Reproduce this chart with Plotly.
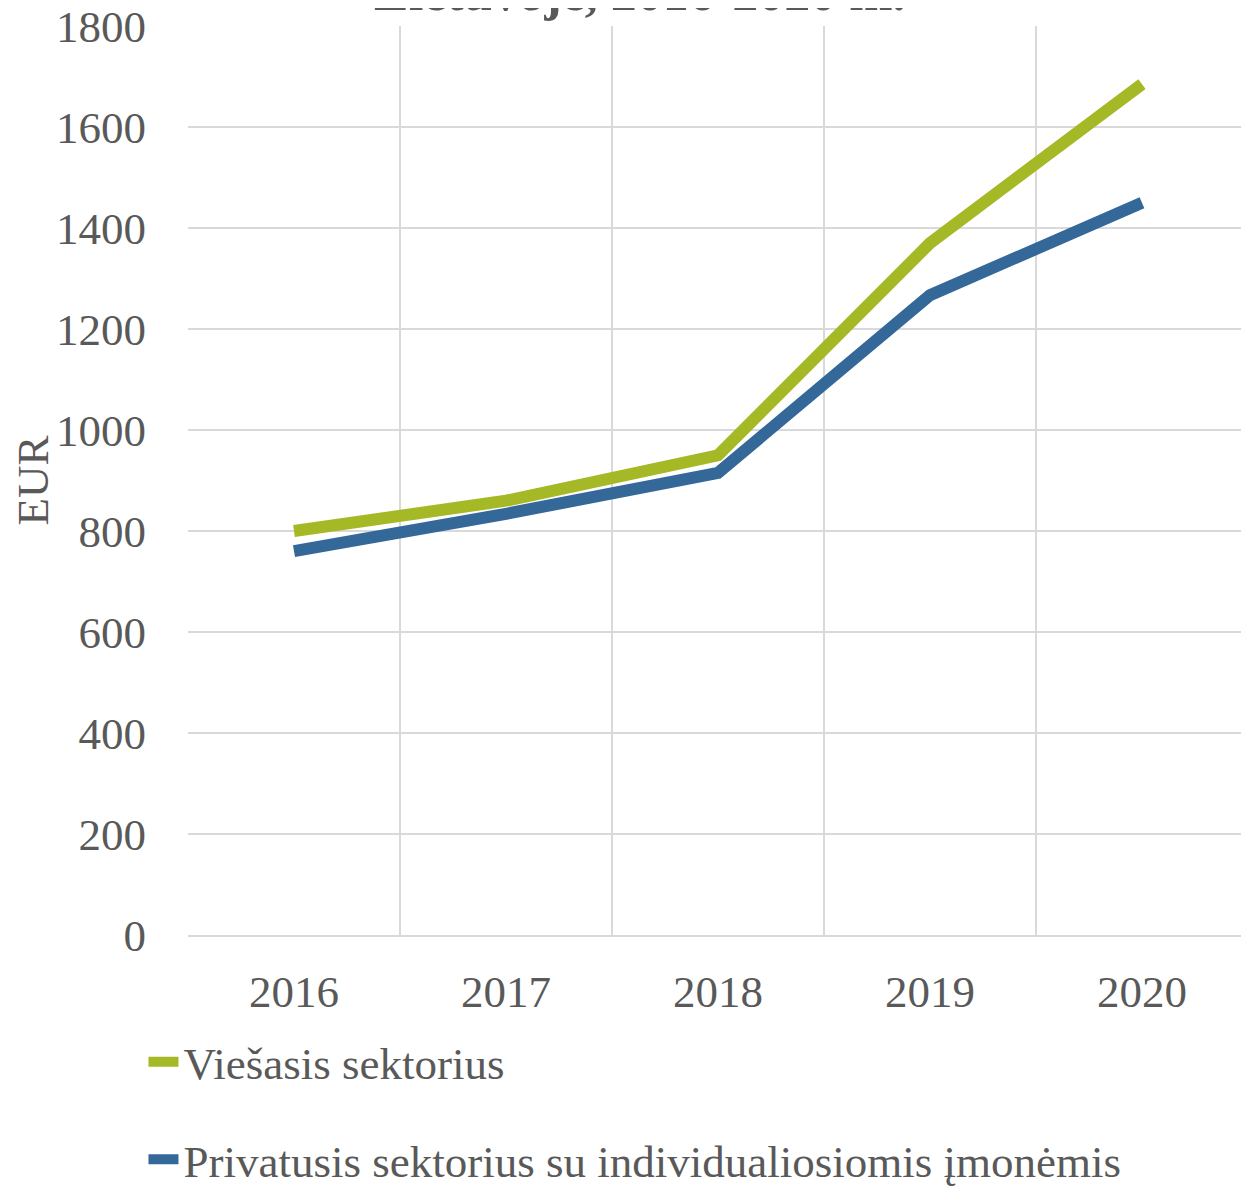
import plotly.graph_objects as go

# data
years = ['2016', '2017', '2018', '2019', '2020']
public_sector = [800, 860, 950, 1370, 1685]
private_sector = [760, 834, 915, 1267, 1450]
public_name = 'Viešasis sektorius'
private_name = 'Privatusis sektorius su individualiosiomis įmonėmis'
y_ticks = [0, 200, 400, 600, 800, 1000, 1200, 1400, 1600, 1800]

FONT = 'Liberation Serif, Times New Roman, serif'
TEXT = '#595959'
GRID = '#d9d9d9'

fig = go.Figure()
fig.add_trace(go.Scatter(
    x=years, y=public_sector, name=public_name, mode='lines',
    line=dict(color='#a5b826', width=12), legendgroup='a'
))
fig.add_trace(go.Scatter(
    x=years, y=private_sector, name=private_name, mode='lines',
    line=dict(color='#346899', width=12), legendgroup='b'
))

# the page body adds an 8px offset, so the figure is 8px smaller
fig.update_layout(
    width=1241, height=1182,
    paper_bgcolor='white', plot_bgcolor='white',
    font=dict(family=FONT, size=45, color=TEXT),
    margin=dict(l=180, r=1, t=18, b=255, autoexpand=False),
    showlegend=True,
    legend=dict(
        orientation='v', x=-0.042, xanchor='left', y=-0.1, yanchor='top',
        tracegroupgap=36, font=dict(size=45, color=TEXT),
        bgcolor='rgba(0,0,0,0)'
    ),
    annotations=[dict(
        text='<b>Lietuvoje, 2016-2020 m.</b>',
        xref='paper', yref='paper', x=0.426, y=1.0 + 33 / 909,
        xanchor='center', yanchor='middle', showarrow=False,
        font=dict(size=52, color=TEXT, family=FONT)
    )],
)

fig.update_xaxes(
    type='category', range=[-0.5, 4.5], tickson='boundaries',
    showgrid=True, gridcolor=GRID, gridwidth=2, showline=True,
    linecolor=GRID, linewidth=2, ticks='', automargin=False,
    ticklabelstandoff=16, tickfont=dict(size=45, color=TEXT),
    ticklabeloverflow='allow', zeroline=False
)
fig.update_yaxes(
    range=[0, 1800], tickvals=y_ticks, showgrid=True, gridcolor=GRID,
    gridwidth=2, showline=False, zeroline=False, ticks='', automargin=False,
    ticklabelstandoff=41, tickfont=dict(size=45, color=TEXT),
    ticklabeloverflow='allow',
    title=dict(text='EUR', font=dict(size=45, color=TEXT), standoff=0)
)

fig.write_html('out.html')
